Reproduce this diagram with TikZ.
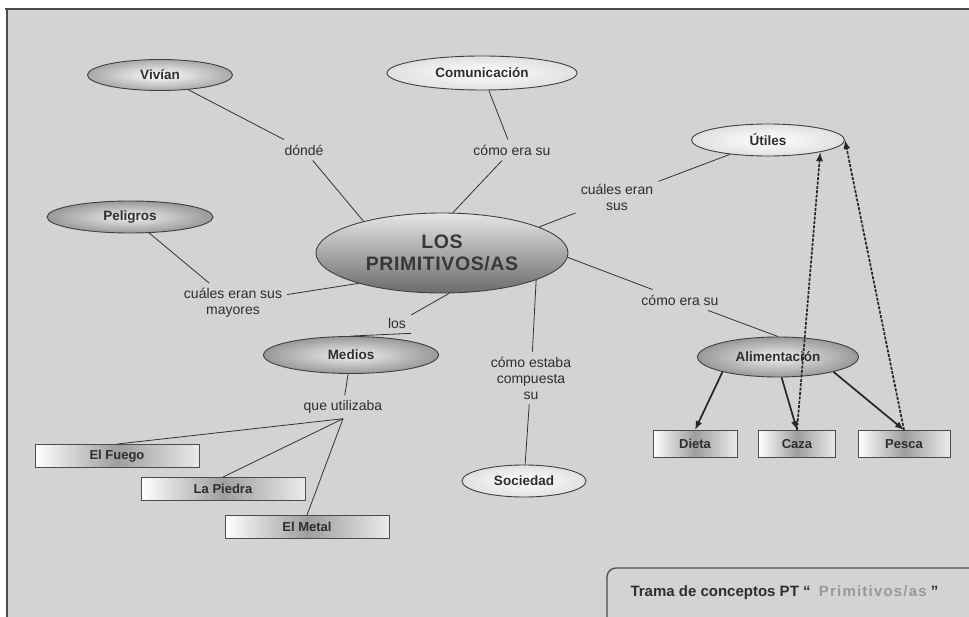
\documentclass[tikz,border=0pt]{standalone}
\usepackage{fontspec}
\setmainfont{Liberation Sans}
\usetikzlibrary{shapes.geometric,arrows.meta}
\definecolor{paper}{HTML}{D3D3D3}
\definecolor{ink}{HTML}{2E2E2E}
\tikzset{
  concept/.style={ellipse, draw=black!75, line width=0.9pt, inner sep=0pt,
    font=\fontsize{13.5}{15}\selectfont\bfseries, text=ink},
  pale/.style={inner color=white, outer color=black!12},
  mid/.style={inner color=black!6, outer color=black!40},
  darkish/.style={inner color=white, outer color=black!34},
  item/.style={rectangle, draw=black!70, line width=0.9pt, inner sep=0pt,
    left color=white, right color=white!92!black, middle color=black!38,
    font=\fontsize{13}{15}\selectfont\bfseries, text=ink},
  phrase/.style={align=center, inner sep=5pt, text=ink,
    font=\fontsize{14}{16}\selectfont},
  link/.style={draw=black!80, line width=0.8pt},
  arrowlink/.style={draw=black!85, line width=1.7pt,
    -{Latex[length=9pt,width=7pt]}},
  toollink/.style={draw=black!85, dash pattern=on 3pt off 1.4pt, line width=1.7pt,
    -{Latex[length=9pt,width=7pt]}}
}
\begin{document}
\begin{tikzpicture}[x=1pt,y=-1pt]
  \useasboundingbox (0,0) rectangle (969,617);
  \clip (0,0) rectangle (969,617);
  % sheet and frame
  \fill[white] (0,0) rectangle (969,617);
  \fill[paper] (7,9) rectangle (975,625);
  \draw[black!70, line width=1.6pt] (5,9) -- (975,9);
  \draw[black!70, line width=1.6pt] (7,9) -- (7,625);

  % central concept
  \node[ellipse, draw=black!75, line width=0.9pt, inner sep=0pt,
        minimum width=252pt, minimum height=80pt,
        top color=black!10, bottom color=black!58,
        align=center, text=black!78,
        font=\fontsize{19.5}{22}\selectfont\bfseries\addfontfeatures{LetterSpace=3}]
        (los) at (442,253) {LOS\\PRIMITIVOS/AS};

  % concepts
  \node[concept, darkish, minimum width=145pt, minimum height=31pt] (viv) at (160,75) {Vivían};
  \node[concept, pale, minimum width=190pt, minimum height=34pt] (com) at (482,73) {Comunicación};
  \node[concept, pale, minimum width=153pt, minimum height=32pt] (uti) at (768,140) {Útiles};
  \node[concept, mid, minimum width=166pt, minimum height=32pt] (pel) at (130,217) {Peligros};
  \node[concept, mid, minimum width=175pt, minimum height=37pt] (med) at (351,355) {Medios};
  \node[concept, mid, minimum width=161pt, minimum height=40pt] (ali) at (778,357) {Alimentación};
  \node[concept, pale, minimum width=124pt, minimum height=32pt] (soc) at (524,481) {Sociedad};

  % boxes
  \node[item, minimum width=84pt, minimum height=27pt] (dieta) at (695,444) {Dieta};
  \node[item, minimum width=77pt, minimum height=27pt] (caza) at (797,444) {Caza};
  \node[item, minimum width=92pt, minimum height=27pt] (pesca) at (904,444) {Pesca};
  \node[item, minimum width=164pt, minimum height=23pt] (fuego) at (117,456) {El Fuego};
  \node[item, minimum width=164pt, minimum height=23pt] (piedra) at (223,489) {La Piedra};
  \node[item, minimum width=164pt, minimum height=23pt] (metal) at (307,527) {El Metal};

  % linking phrases
  \node[phrase] (p1) at (304,150) {dóndé};
  \node[phrase] (p2) at (512,150) {cómo era su};
  \node[phrase] (p3) at (617,197) {cuáles eran\\sus};
  \node[phrase] (p4) at (233,303) {cuáles eran sus\\mayores};
  \node[phrase] (p5) at (397,323) {los};
  \node[phrase] (p6) at (343,407) {que utilizaba};
  \node[phrase] (p7) at (531,378) {cómo estaba\\compuesta\\su};
  \node[phrase] (p8) at (680,300) {cómo era su};

  % connectors
  \draw[link] (viv) -- (p1);
  \draw[link] (p1) -- (los.158);
  \draw[link] (com) -- (p2);
  \draw[link] (p2) -- (los.75);
  \draw[link] (los.15) -- (p3);
  \draw[link] (p3) -- (uti);
  \draw[link] (pel) -- (p4);
  \draw[link] (p4) -- (los.200);
  \draw[link] (los.-80) -- (p5);
  \draw[link] (p5.south east) -- (med.north);
  \draw[link] (med) -- (p6);
  \draw[link] (p6.south) -- (fuego.north);
  \draw[link] (p6.south) -- (piedra.north);
  \draw[link] (p6.south) -- (metal.north);
  \draw[link] (los.-16) -- (p7);
  \draw[link] (p7) -- (soc);
  \draw[link] (los.-2) -- (p8);
  \draw[link] (p8) -- (ali.north);

  \draw[arrowlink] (ali.195) -- (dieta.north);
  \draw[arrowlink] (ali.-80) -- (caza.north);
  \draw[arrowlink] (ali.-15) -- (pesca.north);
  \draw[toollink] (caza.north) -- (uti.-13);
  \draw[toollink] (pesca.north) -- (uti.east);

  % caption panel
  \draw[fill=paper, draw=black!70, line width=1.3pt, rounded corners=9pt]
    (980,568) -- (607,568) -- (607,630);
  \node[font=\fontsize{15}{17}\selectfont\bfseries, text=ink, anchor=west]
    (trama) at (627,593)
    {Trama de conceptos PT \char"201C\ \ \textcolor{black!40}{\addfontfeatures{LetterSpace=8}Primitivos/as}\ \char"201D};
\end{tikzpicture}
\end{document}
